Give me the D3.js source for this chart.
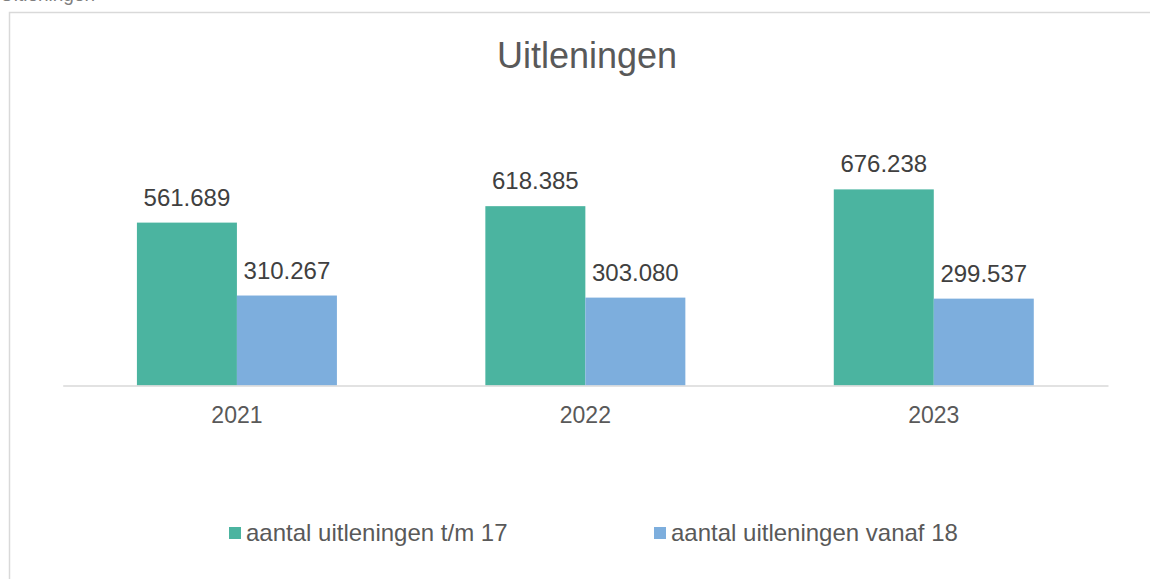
<!DOCTYPE html>
<html>
<head>
<meta charset="utf-8">
<script src="https://cdn.jsdelivr.net/npm/d3@7"></script>
<style>
  body { margin: 0; background: #fff; }
  svg { display: block; font-family: "Liberation Sans", Arial, sans-serif; }
</style>
</head>
<body>
<div class="chart"></div>
<script>
// data
const years = ["2021", "2022", "2023"];
const seriesNames = ["aantal uitleningen t/m 17", "aantal uitleningen vanaf 18"];
const tm17 = [561689, 618385, 676238];
const vanaf18 = [310267, 303080, 299537];
const colors = ["#4bb4a0", "#7daedd"];

const W = 1150, H = 579;
const fmt = v => d3.format(",")(v).replace(/,/g, ".");

const svg = d3.select(".chart")
  .append("svg")
  .attr("width", W)
  .attr("height", H);

// heading above the chart box, mostly scrolled out of view
svg.append("text")
  .attr("x", 0)
  .attr("y", 1)
  .attr("font-size", 19)
  .attr("fill", "#7f7f7f")
  .text("Uitleningen");

// chart frame
svg.append("rect")
  .attr("x", 9.5)
  .attr("y", 12.5)
  .attr("width", 1300)
  .attr("height", 800)
  .attr("fill", "#fff")
  .attr("stroke", "#d9d9d9")
  .attr("stroke-width", 1.5);

// title
svg.append("text")
  .attr("x", 587)
  .attr("y", 68)
  .attr("text-anchor", "middle")
  .attr("font-size", 36)
  .attr("fill", "#595959")
  .text("Uitleningen");

// scales
const x0 = d3.scaleBand()
  .domain(years)
  .range([62.7, 1108])
  .padding(0);

const gw = x0.bandwidth() * 0.574;
const x1 = d3.scaleBand()
  .domain([0, 1])
  .range([(x0.bandwidth() - gw) / 2, (x0.bandwidth() + gw) / 2])
  .padding(0);

const y = d3.scaleLinear()
  .domain([0, 800000])
  .range([385.5, 153.5]);

const rows = years.map((yr, i) => ({ year: yr, values: [tm17[i], vanaf18[i]] }));

const groups = svg.selectAll("g.grp")
  .data(rows)
  .enter()
  .append("g")
  .attr("class", "grp")
  .attr("transform", d => `translate(${x0(d.year)},0)`);

// bars
groups.selectAll("rect")
  .data(d => d.values.map((v, k) => ({ k: k, v: v })))
  .enter()
  .append("rect")
  .attr("x", d => x1(d.k))
  .attr("y", d => y(d.v))
  .attr("width", x1.bandwidth())
  .attr("height", d => y(0) - y(d.v))
  .attr("fill", d => colors[d.k]);

// data labels
groups.selectAll("text.lbl")
  .data(d => d.values.map((v, k) => ({ k: k, v: v })))
  .enter()
  .append("text")
  .attr("class", "lbl")
  .attr("x", d => x1(d.k) + x1.bandwidth() / 2)
  .attr("y", d => y(d.v) - 17)
  .attr("text-anchor", "middle")
  .attr("font-size", 24)
  .attr("fill", "#404040")
  .text(d => fmt(d.v));

// x axis
const axis = svg.append("g")
  .attr("transform", `translate(0,${y(0)})`)
  .call(d3.axisBottom(x0).tickSize(0).tickPadding(21));
axis.select(".domain")
  .attr("stroke", "#d9d9d9")
  .attr("stroke-width", 1.5);
axis.selectAll("text")
  .attr("font-size", 23)
  .attr("font-family", "Liberation Sans, Arial, sans-serif")
  .attr("fill", "#595959");

// legend
const legendX = [229, 654];
const legend = svg.selectAll("g.leg")
  .data(seriesNames)
  .enter()
  .append("g")
  .attr("class", "leg")
  .attr("transform", (d, i) => `translate(${legendX[i]},527)`);

legend.append("rect")
  .attr("width", 12)
  .attr("height", 12)
  .attr("fill", (d, i) => colors[i]);

legend.append("text")
  .attr("x", 17)
  .attr("y", 14)
  .attr("font-size", 24)
  .attr("fill", "#595959")
  .text(d => d);
</script>
</body>
</html>
